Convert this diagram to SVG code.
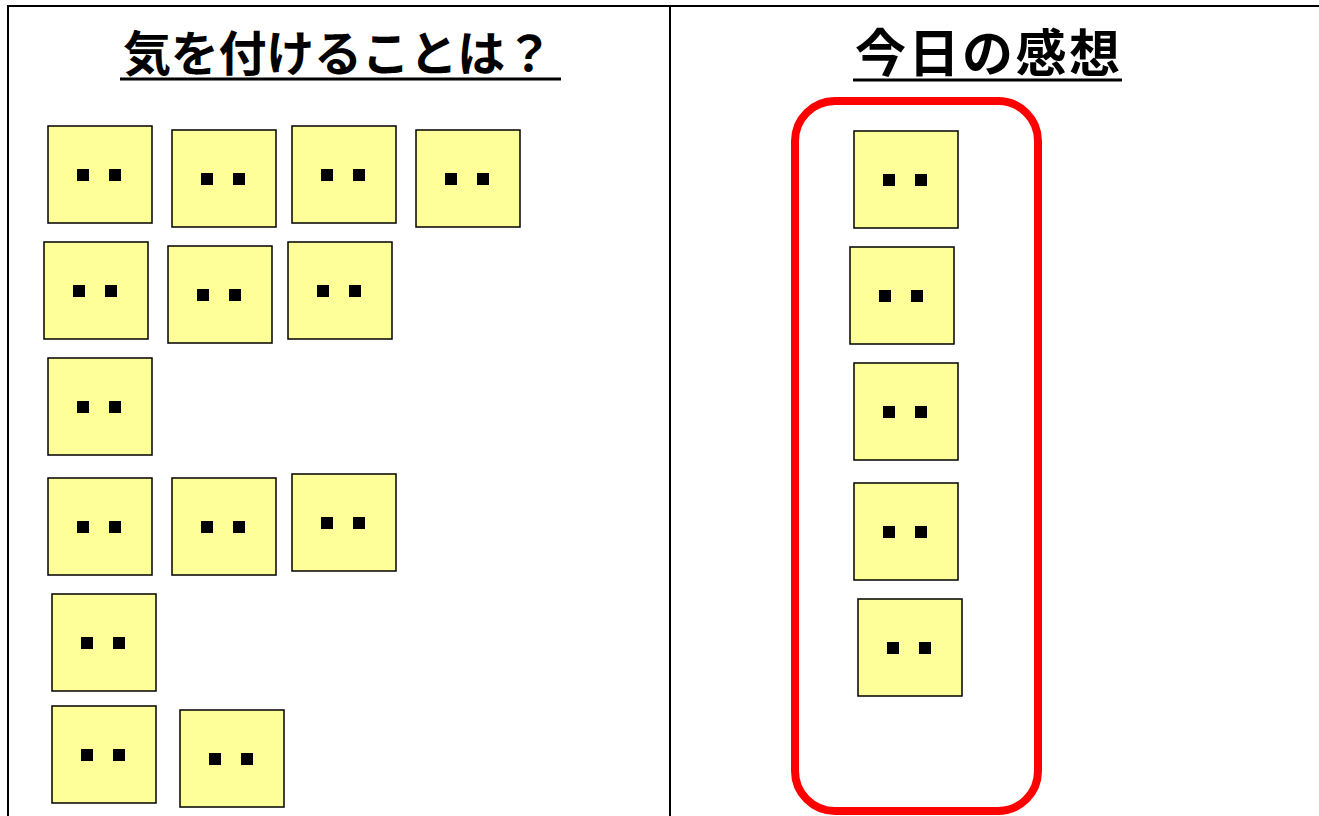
<svg xmlns="http://www.w3.org/2000/svg" width="1319" height="816" viewBox="0 0 1319 816">
<style>
.frame{stroke:#000;stroke-width:2;fill:none}
.note{fill:#ffff99;stroke:#000;stroke-width:1.5}
.dot{fill:#000}
.head{font-family:"Noto Sans CJK JP","Noto Sans CJK SC",sans-serif;font-weight:bold;font-size:48px;fill:#000}
.ul{stroke:#000;stroke-width:3}
</style>
<defs>
<g id="sticky">
<rect class="note" x="0" y="0" width="104" height="97"/>
<rect class="dot" x="29" y="43" width="12" height="12"/>
<rect class="dot" x="61" y="43" width="12" height="12"/>
</g>
</defs>
<rect width="1319" height="816" fill="#fff"/>
<g id="frame">
<line class="frame" x1="7" y1="6" x2="1319" y2="6"/>
<line class="frame" x1="8" y1="5" x2="8" y2="816"/>
<line class="frame" x1="670" y1="6" x2="670" y2="816"/>
</g>
<g id="heading-left">
<text class="head" x="123" y="71" textLength="430" lengthAdjust="spacing">気を付けることは？</text>
<line class="ul" x1="120" y1="79" x2="561" y2="79"/>
</g>
<g id="heading-right">
<text class="head" x="855" y="72" font-size="51" textLength="265" lengthAdjust="spacing" style="font-size:51px">今日の感想</text>
<line class="ul" x1="853" y1="80" x2="1122" y2="80"/>
</g>
<g id="red-box">
<rect x="795" y="101" width="243" height="710" rx="40" ry="40" fill="none" stroke="#ff0000" stroke-width="8"/>
</g>
<g id="notes-left">
<g id="n1"><use href="#sticky" x="48" y="126"/></g>
<g id="n2"><use href="#sticky" x="172" y="130"/></g>
<g id="n3"><use href="#sticky" x="292" y="126"/></g>
<g id="n4"><use href="#sticky" x="416" y="130"/></g>
<g id="n5"><use href="#sticky" x="44" y="242"/></g>
<g id="n6"><use href="#sticky" x="168" y="246"/></g>
<g id="n7"><use href="#sticky" x="288" y="242"/></g>
<g id="n8"><use href="#sticky" x="48" y="358"/></g>
<g id="n9"><use href="#sticky" x="48" y="478"/></g>
<g id="n10"><use href="#sticky" x="172" y="478"/></g>
<g id="n11"><use href="#sticky" x="292" y="474"/></g>
<g id="n12"><use href="#sticky" x="52" y="594"/></g>
<g id="n13"><use href="#sticky" x="52" y="706"/></g>
<g id="n14"><use href="#sticky" x="180" y="710"/></g>
</g>
<g id="notes-right">
<g id="r1"><use href="#sticky" x="854" y="131"/></g>
<g id="r2"><use href="#sticky" x="850" y="247"/></g>
<g id="r3"><use href="#sticky" x="854" y="363"/></g>
<g id="r4"><use href="#sticky" x="854" y="483"/></g>
<g id="r5"><use href="#sticky" x="858" y="599"/></g>
</g>
<g id="connectors"/>
</svg>
